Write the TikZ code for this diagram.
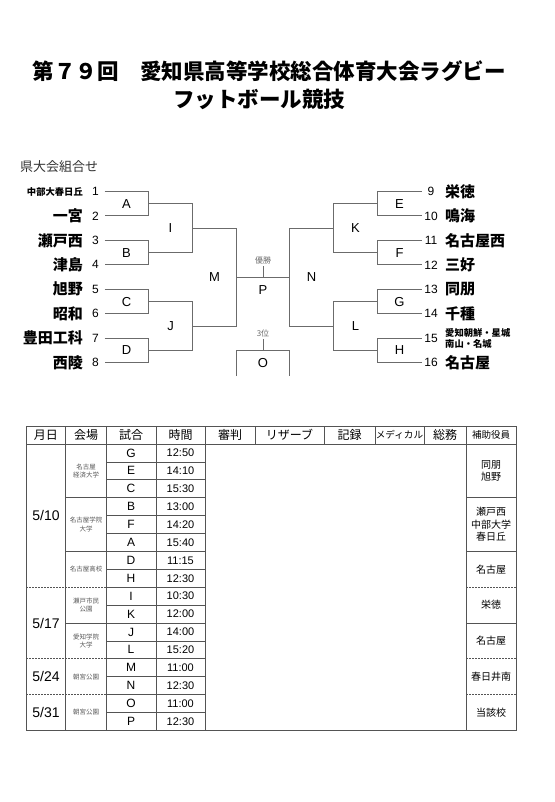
\documentclass[tikz,border=0pt]{standalone}
\usepackage{fontspec}
\setmainfont{Liberation Sans}
\newfontfamily\jp{Noto Sans CJK JP}
\usetikzlibrary{calc}
\definecolor{linegray}{gray}{0.42}
\definecolor{rulegray}{gray}{0.33}
\tikzset{
  bracket/.style={
    draw=linegray,
    line width=0.9pt
  },
  rule/.style={
    draw=rulegray,
    line width=0.8pt
  },
  group rule/.style={
    dash pattern=on 2pt off 1pt
  },
  title/.style={
    font=\jp\bfseries\fontsize{21.5}{24}\selectfont,
    inner sep=0pt
  },
  team name/.style={
    font=\jp\bfseries\fontsize{15}{15}\selectfont,
    inner sep=0pt
  },
  small team/.style={
    font=\jp\bfseries\fontsize{9.3}{11.5}\selectfont,
    inner sep=0pt,
    align=left
  },
  num/.style={
    font=\fontsize{12}{12}\selectfont,
    inner sep=0pt
  },
  match/.style={
    font=\fontsize{13}{13}\selectfont,
    inner sep=0pt
  },
  rank/.style={
    font=\jp\fontsize{8}{8}\selectfont,
    text=linegray,
    inner sep=1pt
  },
  head/.style={
    font=\jp\fontsize{12}{12}\selectfont,
    inner sep=0pt
  },
  cell/.style={
    font=\fontsize{12}{12}\selectfont,
    inner sep=0pt
  },
  clock/.style={
    font=\fontsize{11}{11}\selectfont,
    inner sep=0pt
  },
  day/.style={
    font=\fontsize{14}{14}\selectfont,
    inner sep=0pt
  },
  venue/.style={
    font=\jp\fontsize{6.5}{8.3}\selectfont,
    text=black!65,
    align=center,
    inner sep=0pt
  },
  helper/.style={
    font=\jp\fontsize{10}{12.4}\selectfont,
    align=center,
    inner sep=0pt
  }
}

\begin{document}
\begin{tikzpicture}[x=1pt, y=-1pt]
  \useasboundingbox (0,0) rectangle (554,802);

  % タイトル
  \node[title] (title1) at (269,71) {第７９回　愛知県高等学校総合体育大会ラグビー};
  \node[title] (title2) at (259,99) {フットボール競技};
  \node[font=\jp\fontsize{13}{13}\selectfont, text=black!80, inner sep=0pt, anchor=west] (sub) at (20,167) {県大会組合せ};

  % 出場校の位置
  \foreach \i in {1,...,8} {
    \coordinate (L\i) at (104.5, {191.5+24.45*(\i-1)});
    \node[num] (n\i) at ($(L\i)+(-9,0)$) {\i};
  }
  \foreach \i in {9,...,16} {
    \coordinate (R\i) at (421.5, {191.5+24.45*(\i-9)});
    \node[num] (n\i) at ($(R\i)+(9.5,0)$) {\i};
  }

  % 校名（左）
  \node[small team, anchor=east] (tm1) at ($(L1)+(-21.5,0)$) {中部大春日丘};
  \foreach \i/\name in {2/一宮, 3/瀬戸西, 4/津島, 5/旭野, 6/昭和, 7/豊田工科, 8/西陵} {
    \node[team name, anchor=east] (tm\i) at ($(L\i)+(-21.5,0)$) {\name};
  }
  % 校名（右）
  \foreach \i/\name in {9/栄徳, 10/鳴海, 11/名古屋西, 12/三好, 13/同朋, 14/千種, 16/名古屋} {
    \node[team name, anchor=west] (tm\i) at ($(R\i)+(23.5,0)$) {\name};
  }
  \node[small team, anchor=west] (tm15) at ($(R15)+(23.5,0)$) {愛知朝鮮・星城\\南山・名城};

  % 1回戦
  \foreach \a/\b/\m in {1/2/A, 3/4/B, 5/6/C, 7/8/D} {
    \draw[bracket] (L\a) -- ++(44,0) |- (L\b);
    \coordinate (\m) at ($(L\a)!0.5!(L\b)+(44,0)$);
    \node[match] (lab\m) at ($(L\a)!0.5!(L\b)+(22,0)$) {\m};
  }
  \foreach \a/\b/\m in {9/10/E, 11/12/F, 13/14/G, 15/16/H} {
    \draw[bracket] (R\a) -- ++(-44,0) |- (R\b);
    \coordinate (\m) at ($(R\a)!0.5!(R\b)+(-44,0)$);
    \node[match] (lab\m) at ($(R\a)!0.5!(R\b)+(-22,0)$) {\m};
  }

  % 2回戦・準決勝
  \foreach \a/\b/\m in {A/B/I, C/D/J, I/J/M} {
    \draw[bracket] (\a) -- ++(44,0) |- (\b);
    \coordinate (\m) at ($(\a)!0.5!(\b)+(44,0)$);
    \node[match] (lab\m) at ($(\a)!0.5!(\b)+(-22,0)+(44,0)$) {\m};
  }
  \foreach \a/\b/\m in {E/F/K, G/H/L, K/L/N} {
    \draw[bracket] (\a) -- ++(-44,0) |- (\b);
    \coordinate (\m) at ($(\a)!0.5!(\b)+(-44,0)$);
    \node[match] (lab\m) at ($(\a)!0.5!(\b)+(-22,0)$) {\m};
  }

  % 決勝
  \draw[bracket] (M) -- (N);
  \coordinate (final) at ($(M)!0.5!(N)$);
  \draw[bracket] (final) -- ++(0,-11) node[rank, above] (win) {優勝};
  \node[match] (labP) at ($(final)+(0,13)$) {P};

  % 3位決定戦
  \coordinate (thL) at (236.5,350);
  \coordinate (thR) at (289.5,350);
  \draw[bracket] ($(thL)+(0,26)$) -- (thL) -- (thR) -- ++(0,26);
  \coordinate (third) at ($(thL)!0.5!(thR)$);
  \draw[bracket] (third) -- ++(0,-11) node[rank, above] (bronze) {3位};
  \node[match] (labO) at ($(third)+(0,13)$) {O};

  % 日程表の枠
  \draw[rule] (26,426) rectangle (516,730.4);
  \draw[rule] (26,444) -- (516,444);
  \foreach \x in {255,324,375,424} {
    \draw[rule] (\x,426) -- (\x,444);
  }
  \foreach \x in {65.7,106,156,205,466} {
    \draw[rule] (\x,426) -- (\x,730.4);
  }
  \foreach \k in {1,...,15} {
    \draw[rule] (106,{444+17.9*\k}) -- (205,{444+17.9*\k});
  }
  \foreach \k in {3,6,10} {
    \draw[rule] (65.7,{444+17.9*\k}) -- (106,{444+17.9*\k});
    \draw[rule] (466,{444+17.9*\k}) -- (516,{444+17.9*\k});
  }
  \foreach \k in {8,12,14} {
    \draw[rule, group rule] (26,{444+17.9*\k}) -- (106,{444+17.9*\k});
    \draw[rule, group rule] (466,{444+17.9*\k}) -- (516,{444+17.9*\k});
  }

  % 見出し
  \foreach \t/\x [count=\k] in {月日/45.8, 会場/86, 試合/131, 時間/180.5, 審判/230, リザーブ/289.5, 記録/349.5, 総務/445} {
    \node[head] (h\k) at (\x,435) {\t};
  }
  \node[head, font=\jp\fontsize{9.6}{9.6}\selectfont] (hmed) at (399.5,435) {メディカル};
  \node[head, font=\jp\fontsize{9.5}{9.5}\selectfont] (hhelp) at (491,435) {補助役員};

  % 試合と時間
  \foreach \g/\t [count=\k from 0] in {G/12:50, E/14:10, C/15:30, B/13:00, F/14:20, A/15:40, D/11:15, H/12:30,
      I/10:30, K/12:00, J/14:00, L/15:20, M/11:00, N/12:30, O/11:00, P/12:30} {
    \node[cell] (g\k) at (131, {452.95+17.9*\k}) {\g};
    \node[clock] (t\k) at (180.5, {452.95+17.9*\k}) {\t};
  }

  % 月日
  \node[day] (d1) at (46,515.6) {5/10};
  \node[day] (d2) at (46,623) {5/17};
  \node[day] (d3) at (46,676.7) {5/24};
  \node[day] (d4) at (46,712.5) {5/31};

  % 会場
  \node[venue] (v1) at (86,470.9) {名古屋\\経済大学};
  \node[venue] (v2) at (86,524.6) {名古屋学院\\大学};
  \node[venue] (v3) at (86,569.3) {名古屋高校};
  \node[venue] (v4) at (86,605.1) {瀬戸市民\\公園};
  \node[venue] (v5) at (86,640.9) {愛知学院\\大学};
  \node[venue] (v6) at (86,676.7) {朝宮公園};
  \node[venue] (v7) at (86,712.5) {朝宮公園};

  % 補助役員
  \node[helper] (a1) at (491,470.9) {同朋\\旭野};
  \node[helper] (a2) at (491,524.6) {瀬戸西\\中部大学\\春日丘};
  \node[helper] (a3) at (491,569.3) {名古屋};
  \node[helper] (a4) at (491,605.1) {栄徳};
  \node[helper] (a5) at (491,640.9) {名古屋};
  \node[helper] (a6) at (491,676.7) {春日井南};
  \node[helper] (a7) at (491,712.5) {当該校};
\end{tikzpicture}
\end{document}
